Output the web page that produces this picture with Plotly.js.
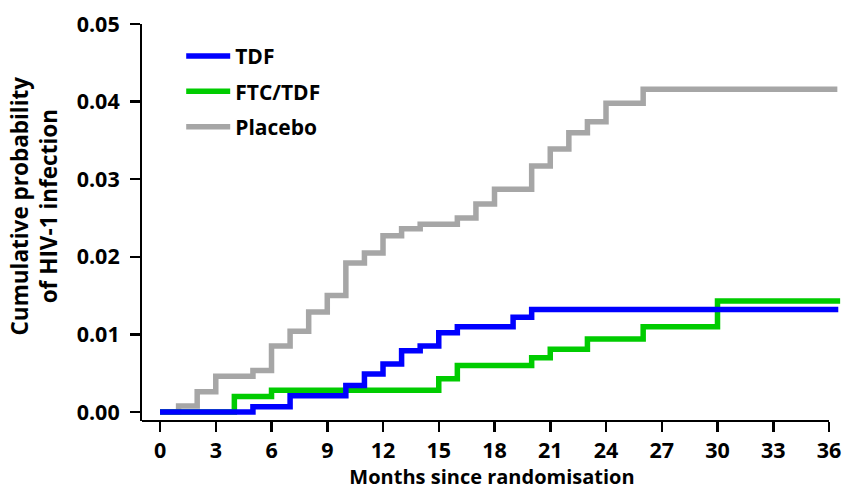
<!DOCTYPE html>
<html>
<head>
<meta charset="utf-8">
<script src="https://cdn.plot.ly/plotly-3.0.1.min.js"></script>
<style>html,body{margin:0;padding:0;background:#fff;}#chart{width:846px;height:490px;}</style>
</head>
<body>
<div id="chart"></div>
<script>
// Months since randomisation (step change points) and cumulative probability
const placeboMonths = [0, 1, 2, 3, 5, 6, 7, 8, 9, 10, 11, 12, 13, 14, 16, 17, 18, 20, 21, 22, 23, 24, 26, 36.45];
const placeboProb   = [0, 0.00077, 0.0026, 0.0046, 0.00535, 0.0085, 0.0104, 0.0129, 0.0150, 0.0192, 0.0205, 0.0227, 0.0236, 0.0242, 0.0250, 0.0268, 0.0287, 0.0317, 0.0339, 0.0360, 0.0374, 0.0398, 0.0416, 0.0416];

const ftcMonths = [0, 4, 6, 15, 16, 20, 21, 23, 26, 30, 36.6];
const ftcProb   = [0, 0.0020, 0.0028, 0.0043, 0.0060, 0.0070, 0.0081, 0.0094, 0.0110, 0.0143, 0.0143];

const tdfMonths = [0, 5, 7, 10, 11, 12, 13, 14, 15, 16, 19, 20, 36.5];
const tdfProb   = [0, 0.00068, 0.0021, 0.0034, 0.0049, 0.0062, 0.0079, 0.0085, 0.0102, 0.0110, 0.0122, 0.0132, 0.0132];

const xTicks = [0, 3, 6, 9, 12, 15, 18, 21, 24, 27, 30, 33, 36];
const yTicks = [0, 0.01, 0.02, 0.03, 0.04, 0.05];

const FONT = 'Open Sans, sans-serif';
const LW = 5.5;

const traces = [
  {x: placeboMonths, y: placeboProb, name: 'Placebo', legendgroup: 'c', legendrank: 3, mode: 'lines',
   line: {shape: 'hv', color: '#a6a6a6', width: LW}},
  {x: ftcMonths, y: ftcProb, name: 'FTC/TDF', legendgroup: 'b', legendrank: 2, mode: 'lines',
   line: {shape: 'hv', color: '#00cc00', width: LW}},
  {x: tdfMonths, y: tdfProb, name: 'TDF', legendgroup: 'a', legendrank: 1, mode: 'lines',
   line: {shape: 'hv', color: '#0000ff', width: LW}}
];

const layout = {
  width: 846, height: 490,
  margin: {l: 142, r: 4, t: 24, b: 69, pad: 0},
  paper_bgcolor: '#fff', plot_bgcolor: '#fff',
  font: {family: FONT, size: 20, color: '#000', weight: 700},
  showlegend: true,
  legend: {x: 0.056, y: 0.97, xanchor: 'left', yanchor: 'top', traceorder: 'grouped',
           tracegroupgap: 5, bgcolor: 'rgba(0,0,0,0)', itemwidth: 44,
           font: {family: FONT, size: 21, color: '#000', weight: 700}},
  xaxis: {range: [-0.97, 36.7], tickvals: xTicks, ticktext: xTicks.map(String),
          showgrid: false, zeroline: false, showline: false,
          ticks: 'outside', ticklen: 10, tickwidth: 2.5, tickcolor: '#000',
          tickfont: {family: FONT, size: 21.5, color: '#000', weight: 700},
          title: {text: 'Months since randomisation', standoff: 11,
                  font: {family: FONT, size: 20, color: '#000', weight: 700}}},
  yaxis: {range: [-0.00116, 0.05], tickvals: yTicks, ticktext: yTicks.map(v => v.toFixed(2)),
          showgrid: false, zeroline: false, showline: true, linewidth: 2, linecolor: '#000',
          ticks: 'outside', ticklen: 10, tickwidth: 2.5, tickcolor: '#000', ticklabelstandoff: 6,
          tickfont: {family: FONT, size: 21.5, color: '#000', weight: 700}},
  shapes: [
    {type: 'line', xref: 'x', yref: 'paper', x0: -0.97, x1: 36, y0: 0, y1: 0,
     line: {color: '#000', width: 2}}
  ],
  annotations: [
    {text: 'Cumulative probability<br>of HIV-1 infection', textangle: -90,
     xref: 'paper', yref: 'paper', x: -0.155, y: 0.5416, xanchor: 'center', yanchor: 'middle',
     showarrow: false, font: {family: FONT, size: 22.5, color: '#000', weight: 700}}
  ]
};

Plotly.newPlot('chart', traces, layout, {displayModeBar: false, staticPlot: true});
</script>
</body>
</html>
